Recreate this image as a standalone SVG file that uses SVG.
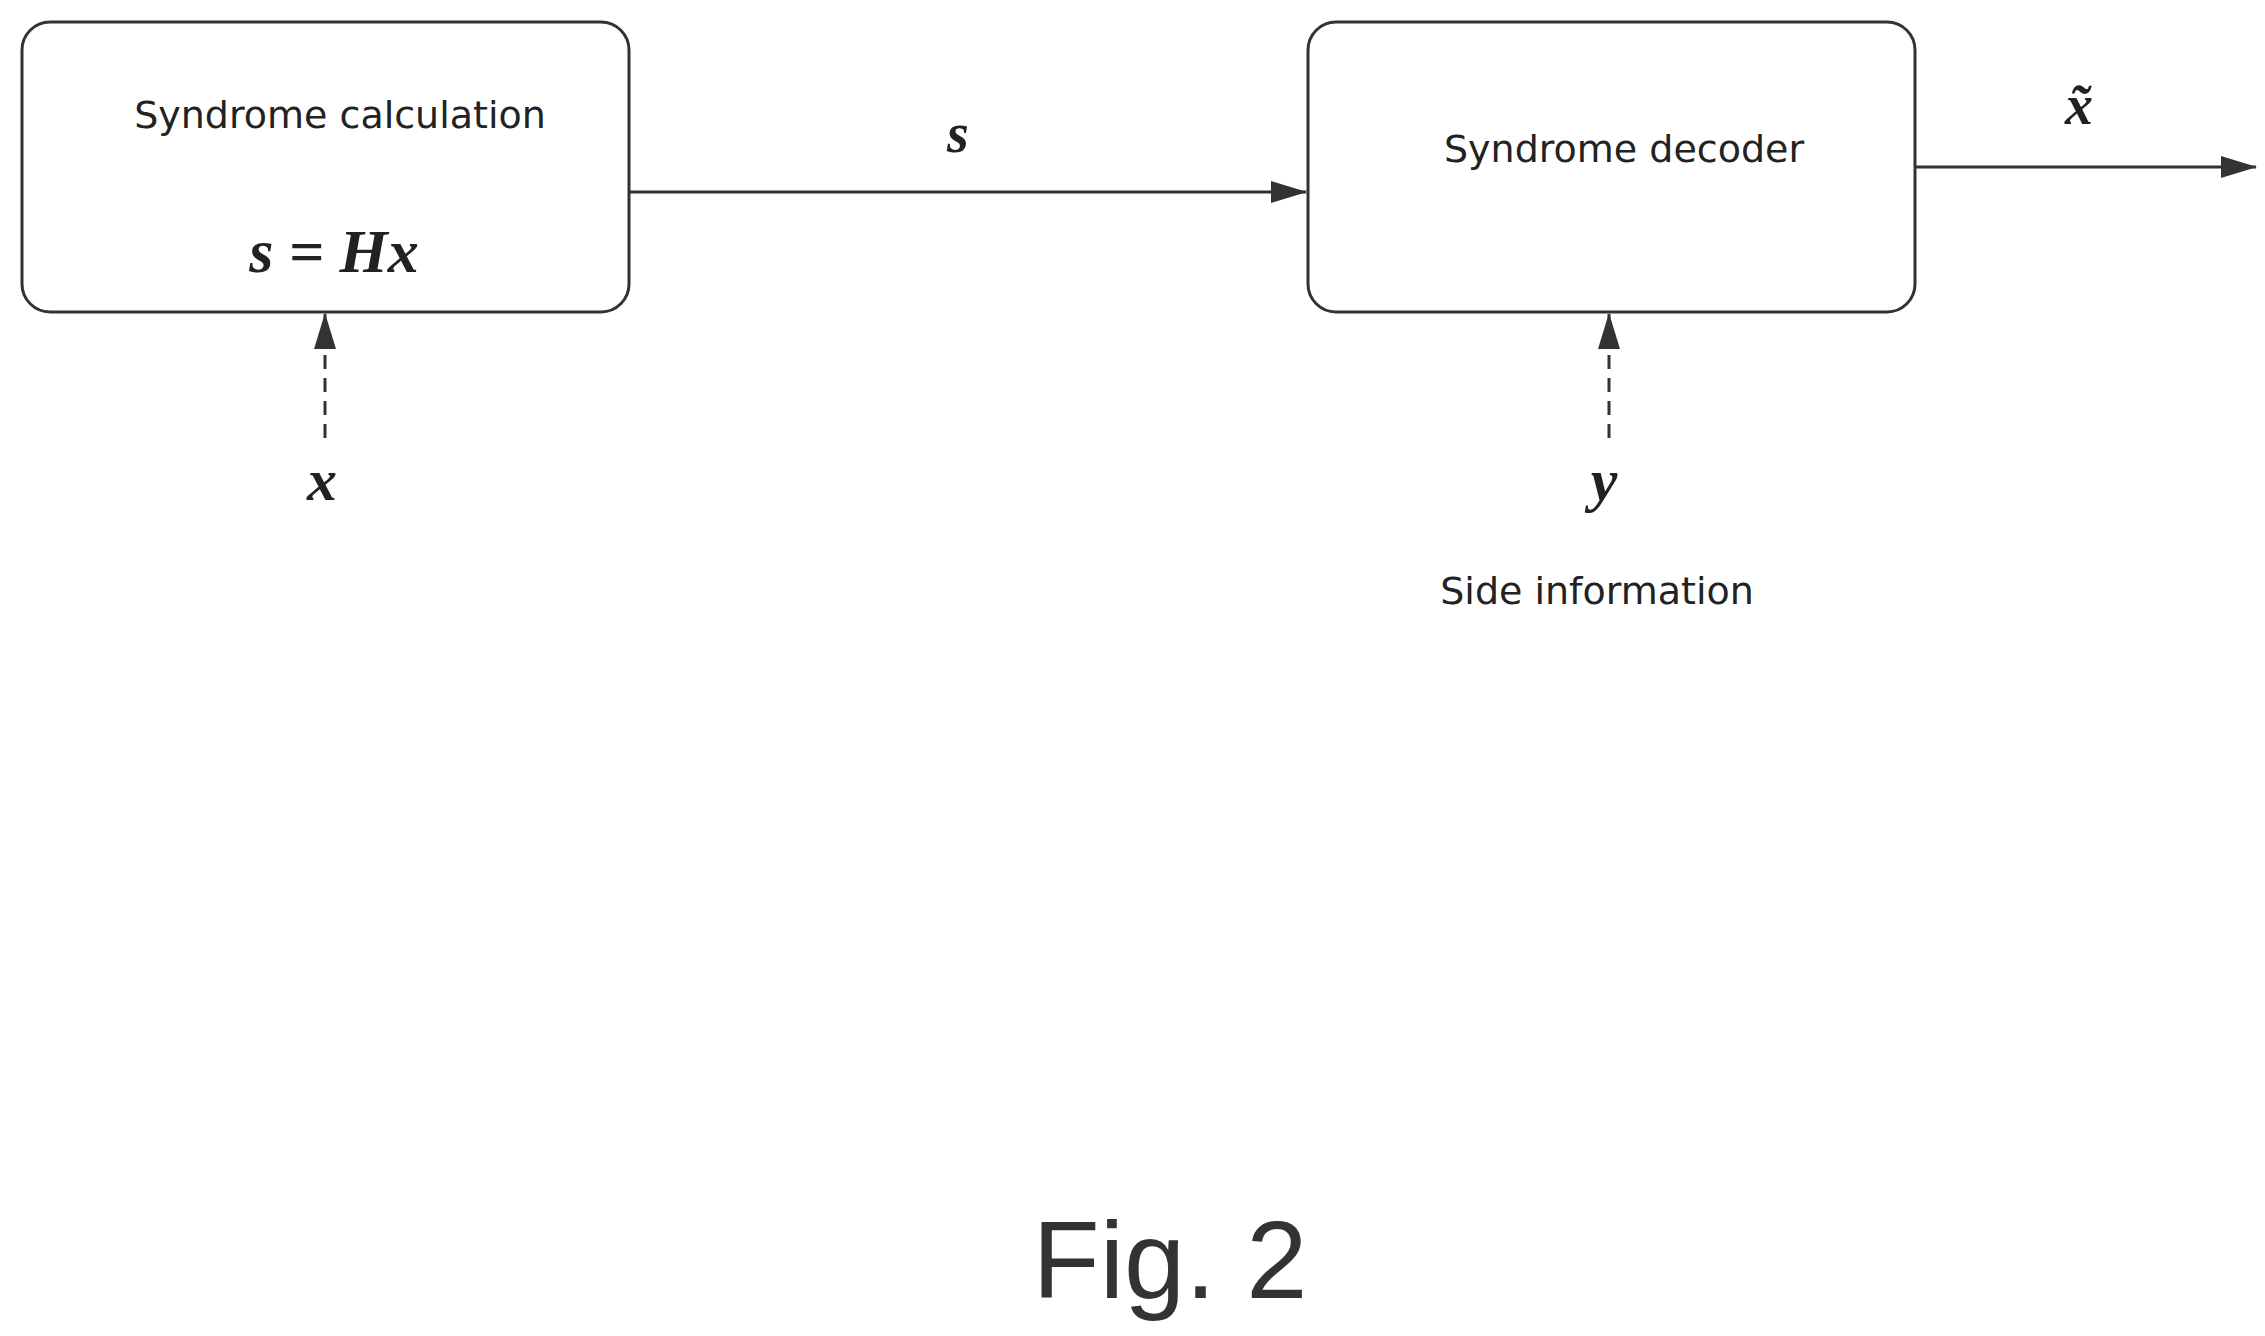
<svg xmlns="http://www.w3.org/2000/svg" width="2265" height="1336" viewBox="0 0 2265 1336">
<style>
.box{fill:none;stroke:#333;stroke-width:3}
.ln{stroke:#333;stroke-width:3;fill:none}
.ds{stroke:#333;stroke-width:3;stroke-dasharray:14 9;fill:none}
.t{font-family:"DejaVu Sans",sans-serif;font-size:38px;fill:#222;text-anchor:middle}
.m{font-family:"Liberation Serif",serif;font-style:italic;font-weight:bold;fill:#222;text-anchor:middle}
</style>
<defs><marker id="a" markerWidth="12" markerHeight="10" refX="11" refY="5" orient="auto" markerUnits="userSpaceOnUse" viewBox="0 0 12 10"><path d="M0,0 L12,5 L0,10 Z" fill="#333"/></marker>
<marker id="b" markerWidth="36" markerHeight="22" refX="35" refY="11" orient="auto" markerUnits="userSpaceOnUse"><path d="M0,0 L36,11 L0,22 Z" fill="#333"/></marker></defs>
<rect width="2265" height="1336" fill="#fff"/>
<g id="calc"><rect class="box" x="22" y="22" width="607" height="290" rx="28"/>
<text class="t" x="340" y="128">Syndrome calculation</text>
<text class="m" x="334" y="272" font-size="62">s = Hx</text></g>
<g id="dec"><rect class="box" x="1308" y="22" width="607" height="290" rx="28"/>
<text class="t" x="1624" y="162">Syndrome decoder</text></g>
<g id="labels">
<text class="m" x="958" y="152" font-size="56">s</text>
<text class="m" x="2079" y="124" font-size="56">x̃</text>
<text class="m" x="322" y="500" font-size="60">x</text>
<text class="m" x="1604" y="500" font-size="60">y</text>
<text class="t" x="1597" y="604">Side information</text>
<text x="1170" y="1298" font-family="Liberation Sans Narrow, Liberation Sans, sans-serif" font-size="110" fill="#333" text-anchor="middle">Fig. 2</text></g>
<g id="connectors">
<line class="ln" x1="629" y1="192" x2="1306" y2="192" marker-end="url(#b)"/>
<line class="ln" x1="1915" y1="167" x2="2256" y2="167" marker-end="url(#b)"/>
<line class="ds" x1="325" y1="438" x2="325" y2="314" marker-end="url(#b)"/>
<line class="ds" x1="1609" y1="438" x2="1609" y2="314" marker-end="url(#b)"/>
</g>
</svg>
